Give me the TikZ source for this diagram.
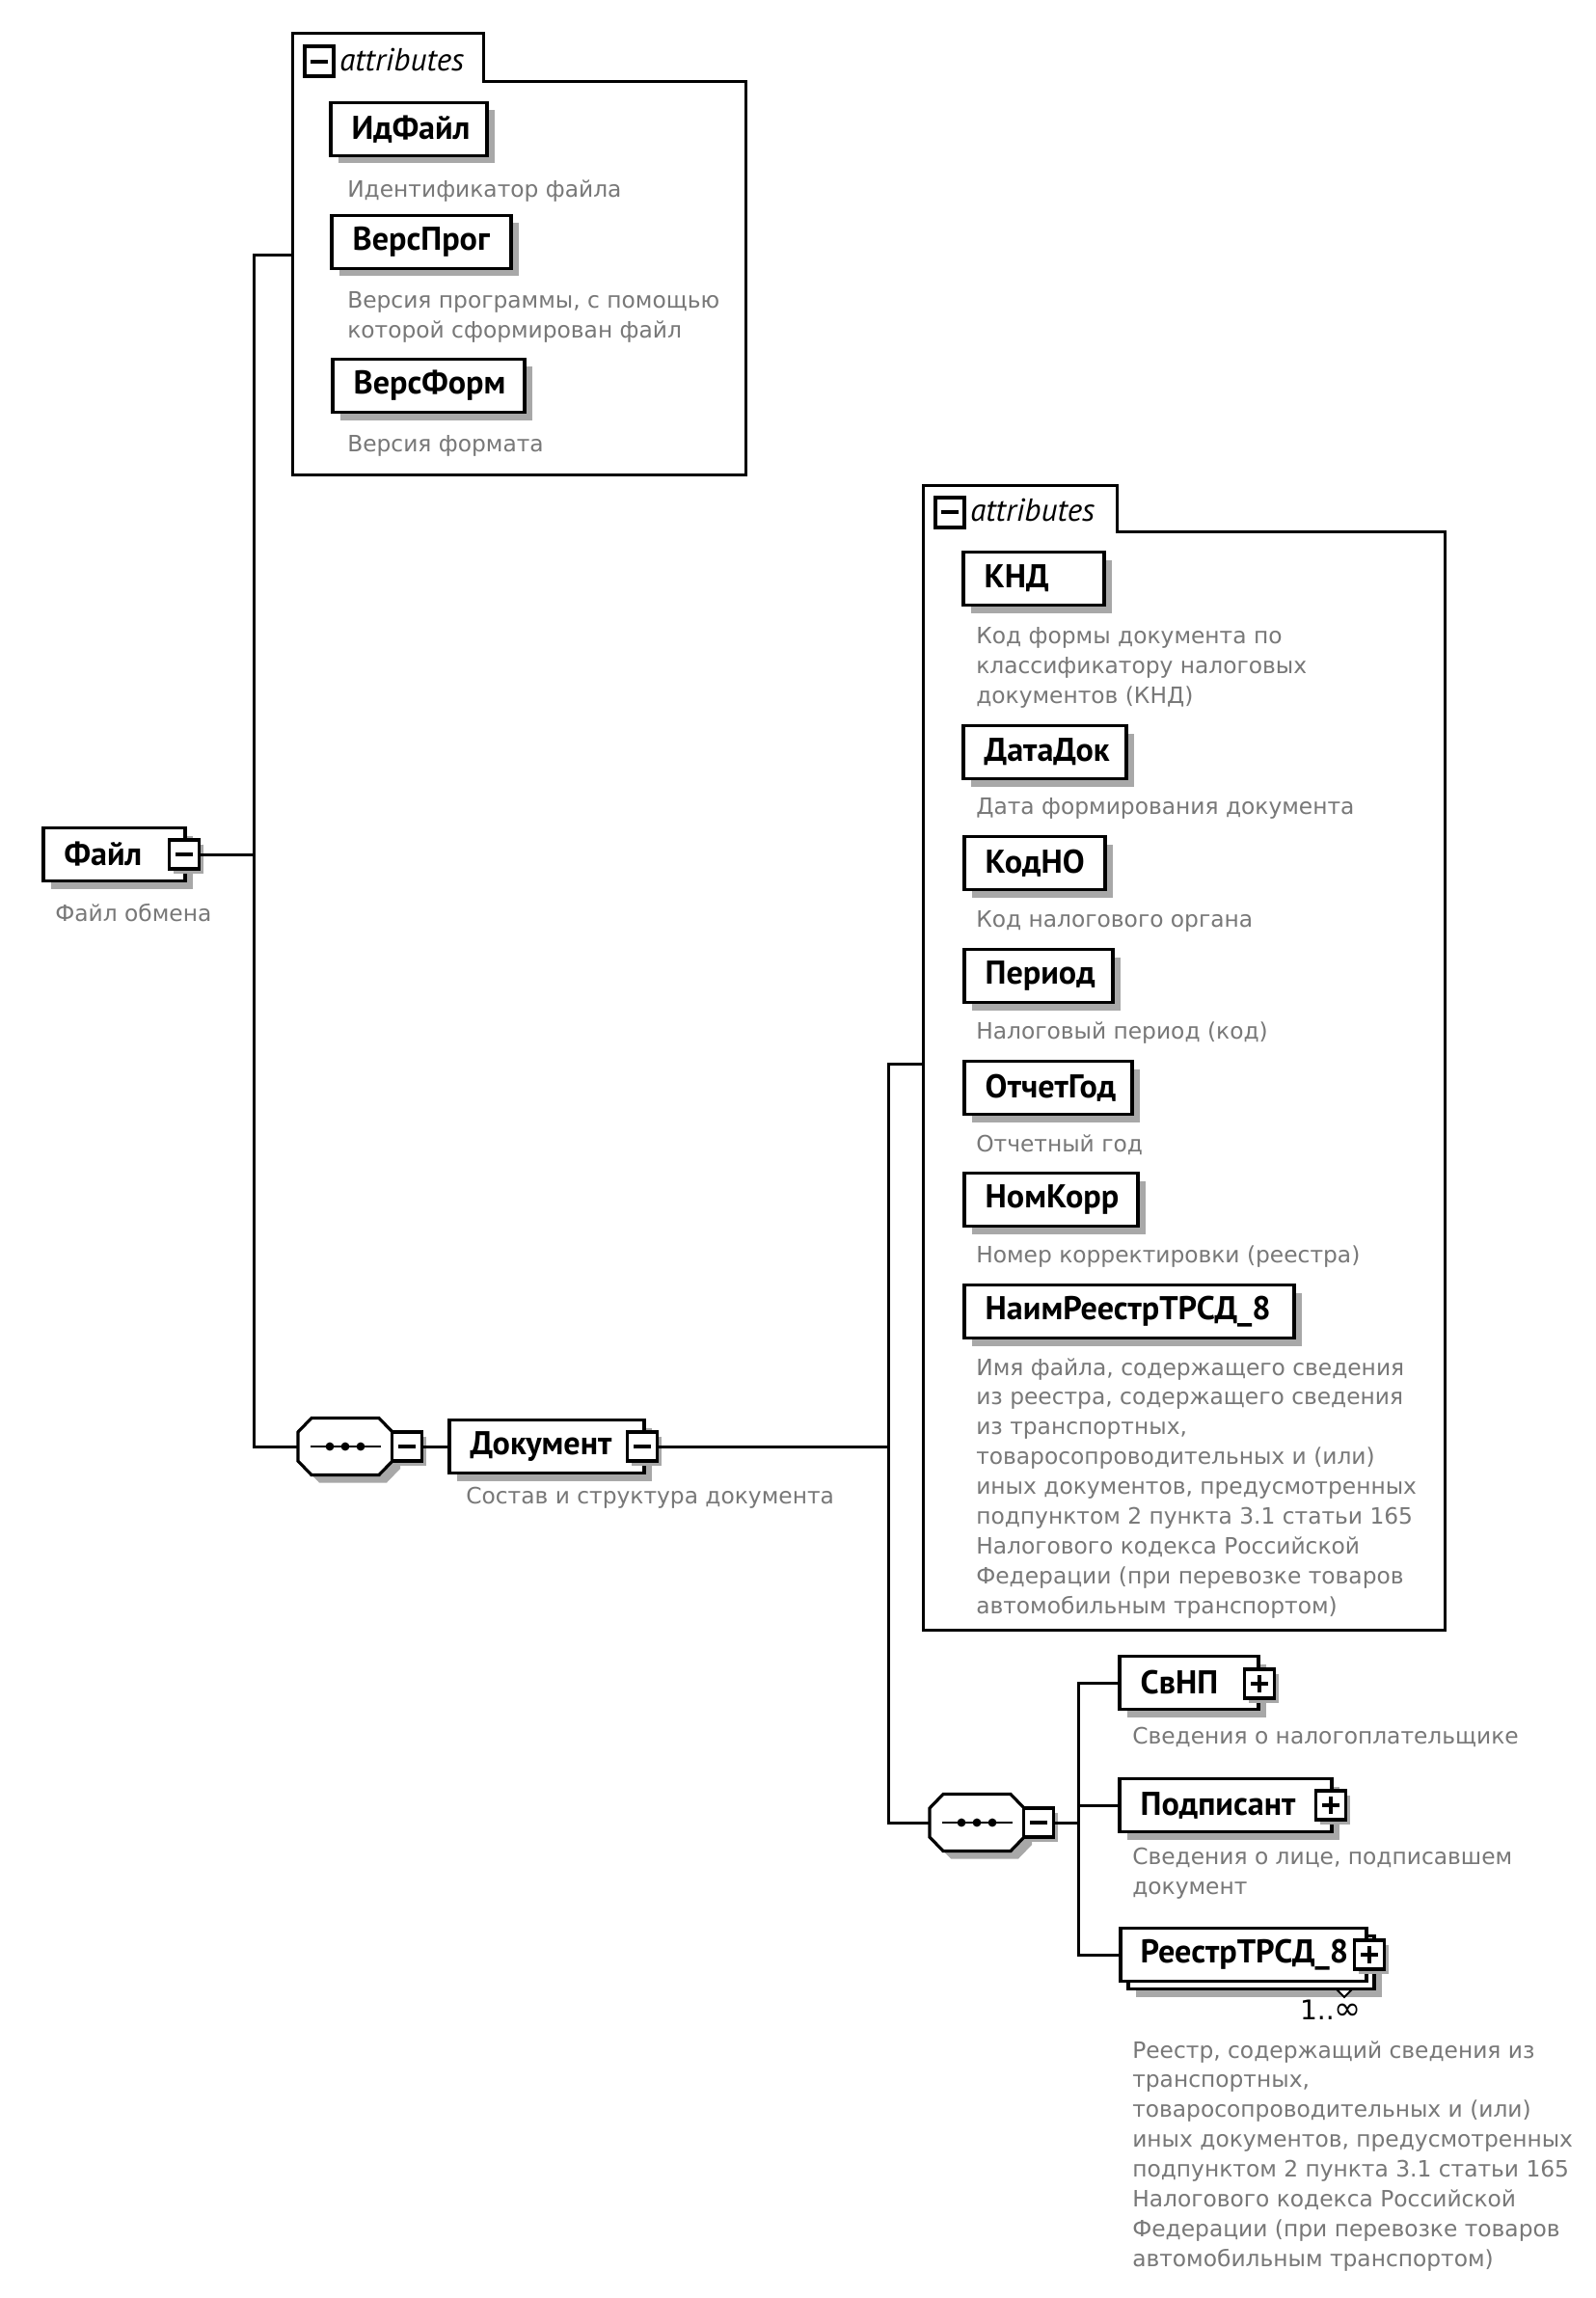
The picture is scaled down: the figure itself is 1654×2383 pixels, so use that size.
\documentclass[tikz,border=0pt]{standalone}
\usepackage{fontspec}
\newfontfamily\namefont{PT Sans}
\newfontfamily\descfont{DejaVu Sans}
\usetikzlibrary{calc,shadows}
\definecolor{descgray}{gray}{0.47}
\definecolor{shadowgray}{gray}{0.66}
\tikzset{
  lw/.style={line width=0.8mm},
  conn/.style={line width=0.75mm},
  shad/.style={drop shadow={shadow xshift=2mm,shadow yshift=-2mm,fill=shadowgray,opacity=1}},
  smallshad/.style={drop shadow={shadow xshift=1.2mm,shadow yshift=-1.2mm,fill=shadowgray,opacity=1}},
  noshad/.style={},
  namebox/.style={draw, lw, fill=white, shad, inner sep=0pt, minimum height=13.75mm},
  nametext/.style={anchor=west, inner sep=0pt, font=\namefont\bfseries\fontsize{24.3}{29}\selectfont},
  desctext/.style={anchor=north west, inner sep=0pt, align=left, text=descgray, font=\descfont\fontsize{16.6}{22}\selectfont},
  attrtext/.style={anchor=west, inner sep=0pt, font=\namefont\itshape\fontsize{23.5}{28}\selectfont},
  btn/.style={draw, lw, fill=white, minimum width=7.75mm, minimum height=7.5mm, inner sep=0pt},
  iconbtn/.style={draw, line width=1mm, fill=white, minimum width=7.5mm, minimum height=7.75mm, inner sep=0pt},
  sign/.style={line width=0.8mm},
  seqanchor/.style={inner sep=0pt, minimum width=24.5mm, minimum height=14.75mm},
  container/.style={line width=0.75mm, fill=white}
}
\newcommand{\ElBox}[6]{%
  \node[namebox, minimum width={(#3-#2)*0.25mm}, #6] (#1) at ({(#2+#3)/2},#4) {};
  \node[nametext] (#1-t) at ($(#1.west)+(23,0)$) {#5};
}
\newcommand{\DescTxt}[4]{%
  \node[desctext] (#1) at (#2,{#3-11}) {#4};
}
\newcommand{\Btn}[5]{%
  \node[#5] (#1) at (#2,#3) {};
  \draw[sign] ($(#1.center)+(-9,0)$) -- ($(#1.center)+(9,0)$);
  \ifnum#4=1 \draw[sign] ($(#1.center)+(0,-9)$) -- ($(#1.center)+(0,9)$);\fi
}
\newcommand{\OctPath}[2]{({#1-49},{#2-15}) -- ({#1-35},{#2-29.5}) -- ({#1+35},{#2-29.5}) -- ({#1+49},{#2-15}) -- ({#1+49},{#2+15}) -- ({#1+35},{#2+29.5}) -- ({#1-35},{#2+29.5}) -- ({#1-49},{#2+15}) -- cycle}
\newcommand{\SeqNode}[3]{%
  \fill[shadowgray] \OctPath{#2+8}{#3+8};
  \draw[lw, fill=white] \OctPath{#2}{#3};
  \node[seqanchor] (#1) at (#2,#3) {};
  \draw[line width=0.6mm] ($(#1.center)+(-36,0)$) -- ($(#1.center)+(37,0)$);
  \fill ($(#1.center)+(-16,0)$) circle (1.1mm);
  \fill ($(#1.center)+(0,0)$) circle (1.1mm);
  \fill ($(#1.center)+(16,0)$) circle (1.1mm);
}
\begin{document}
\begin{tikzpicture}[x=0.25mm,y=-0.25mm]
\useasboundingbox[fill=white] (0,0) rectangle (1654,2383);

% ---------- root trunk ----------
\coordinate (trTop) at (263,265);
\coordinate (trBot) at (263,1500);
\coordinate (attrA-w) at (303,265);

% ---------- first attributes container ----------
\draw[container] (303,35) -- (501,35) -- (501,85) -- (773,85) -- (773,492) -- (303,492) -- cycle;
\Btn{attrA-i}{331}{64}{0}{iconbtn}
\node[attrtext] (attrA-t) at (352,62) {attributes};

\ElBox{idfile}{343}{505}{134}{ИдФайл}{}
\DescTxt{idfile-d}{360}{197}{Идентификатор файла}
\ElBox{versprog}{344}{530}{251}{ВерсПрог}{}
\DescTxt{versprog-d}{360}{313}{Версия программы, с помощью\\которой сформирован файл}
\ElBox{versform}{345}{544}{400}{ВерсФорм}{}
\DescTxt{versform-d}{360}{462}{Версия формата}

% ---------- root element ----------
\ElBox{file}{45}{192}{886}{Файл}{}
\Btn{file-b}{191}{886}{0}{btn, smallshad}
\DescTxt{file-d}{57}{948}{Файл обмена}

% ---------- first sequence ----------
\SeqNode{seq1}{358}{1500}
\Btn{seq1-b}{422}{1500}{0}{btn, smallshad}

\ElBox{doc}{466}{668}{1500}{Документ}{}
\Btn{doc-b}{666}{1500}{0}{btn, smallshad}
\DescTxt{doc-d}{483}{1553}{Состав и структура документа}

\coordinate (trB-top) at (921,1103);
\coordinate (trB-mid) at (921,1500);
\coordinate (trB-bot) at (921,1890);
\coordinate (attrB-w) at (957,1103);

% ---------- second attributes container ----------
\draw[container] (957,503) -- (1158,503) -- (1158,551) -- (1498,551) -- (1498,1690) -- (957,1690) -- cycle;
\Btn{attrB-i}{985}{531}{0}{iconbtn}
\node[attrtext] (attrB-t) at (1006,529) {attributes};

\ElBox{knd}{999}{1145}{600}{КНД}{}
\DescTxt{knd-d}{1012}{661}{Код формы документа по\\классификатору налоговых\\документов (КНД)}
\ElBox{datadok}{999}{1168}{780}{ДатаДок}{}
\DescTxt{datadok-d}{1012}{838}{Дата формирования документа}
\ElBox{kodno}{1000}{1146}{895}{КодНО}{}
\DescTxt{kodno-d}{1012}{955}{Код налогового органа}
\ElBox{period}{1000}{1154}{1012}{Период}{}
\DescTxt{period-d}{1012}{1070}{Налоговый период (код)}
\ElBox{otchgod}{1000}{1174}{1128}{ОтчетГод}{}
\DescTxt{otchgod-d}{1012}{1187}{Отчетный год}
\ElBox{nomkorr}{1000}{1180}{1244}{НомКорр}{}
\DescTxt{nomkorr-d}{1012}{1302}{Номер корректировки (реестра)}
\ElBox{naim}{1000}{1342}{1360}{НаимРеестрТРСД\_8}{}
\DescTxt{naim-d}{1012}{1419}{Имя файла, содержащего сведения\\из реестра, содержащего сведения\\из транспортных,\\товаросопроводительных и (или)\\иных документов, предусмотренных\\подпунктом 2 пункта 3.1 статьи 165\\Налогового кодекса Российской\\Федерации (при перевозке товаров\\автомобильным транспортом)}

% ---------- second sequence ----------
\SeqNode{seq2}{1013}{1890}
\Btn{seq2-b}{1077}{1890}{0}{btn, smallshad}
\coordinate (trC-top) at (1118,1745);
\coordinate (trC-mid) at (1118,1890);
\coordinate (trC-bot) at (1118,2027);

\ElBox{svnp}{1161}{1305}{1745}{СвНП}{}
\Btn{svnp-b}{1306}{1746}{1}{btn, smallshad}
\DescTxt{svnp-d}{1174}{1802}{Сведения о налогоплательщике}

\ElBox{podp}{1161}{1381}{1872}{Подписант}{}
\Btn{podp-b}{1380}{1872}{1}{btn, smallshad}
\DescTxt{podp-d}{1174}{1927}{Сведения о лице, подписавшем\\документ}

\node[namebox, minimum width={(1425-1170)*0.25mm}] (reestr-back) at ({(1170+1425)/2},2035) {};
\draw[line width=0.5mm, fill=white] (1386,2063) -- (1402,2063) -- (1394,2071) -- cycle;
\node[draw, lw, fill=white, inner sep=0pt, minimum height=13.75mm, minimum width={(1417-1162)*0.25mm}] (reestr) at ({(1162+1417)/2},2027) {};
\node[nametext] (reestr-t) at ($(reestr.west)+(22,0)$) {РеестрТРСД\_8};
\Btn{reestr-b}{1420}{2027}{1}{btn, smallshad}
\node[anchor=base, inner sep=0pt, font=\descfont\fontsize{20}{24}\selectfont] (reestr-m) at (1380,2094) {1..{\fontsize{24}{24}\selectfont ∞}};
\DescTxt{reestr-d}{1174}{2127}{Реестр, содержащий сведения из\\транспортных,\\товаросопроводительных и (или)\\иных документов, предусмотренных\\подпунктом 2 пункта 3.1 статьи 165\\Налогового кодекса Российской\\Федерации (при перевозке товаров\\автомобильным транспортом)}

% ---------- connectors ----------
\draw[conn] (attrA-w) -- (trTop) -- (trBot) -- (seq1.west);
\draw[conn] (file-b.east) -- (file-b.east -| trTop);
\draw[conn] (seq1-b.east) -- (doc.west);
\draw[conn] (doc-b.east) -- (trB-mid);
\draw[conn] (attrB-w) -- (trB-top) -- (trB-bot) -- (seq2.west);
\draw[conn] (seq2-b.east) -- (trC-mid);
\draw[conn] (svnp.west) -- (trC-top) -- (trC-bot) -- (reestr.west);
\draw[conn] (podp.west) -- (podp.west -| trC-top);
\end{tikzpicture}
\end{document}
